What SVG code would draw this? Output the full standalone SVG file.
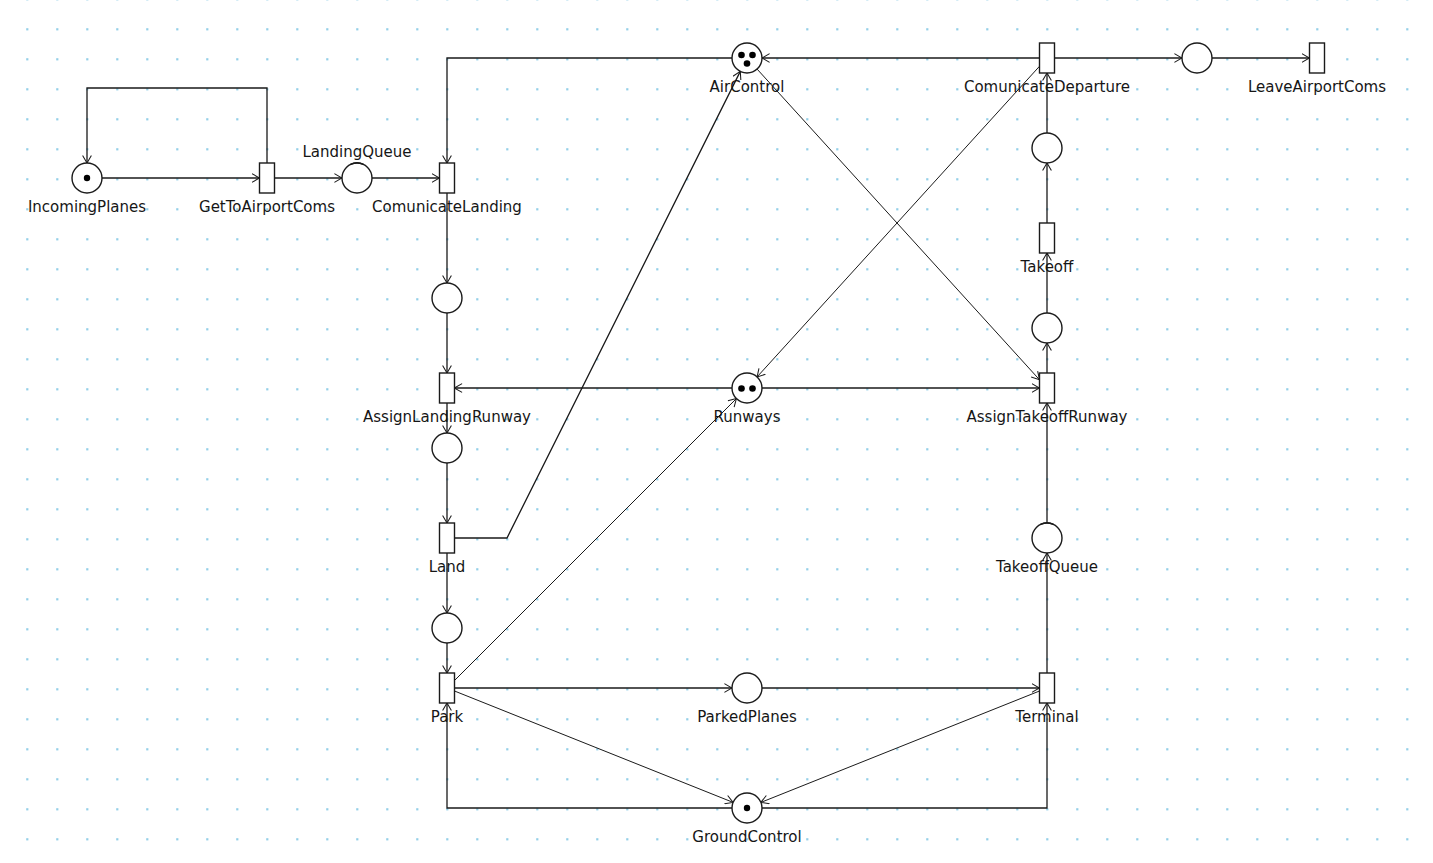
<svg xmlns="http://www.w3.org/2000/svg" width="1433" height="863" viewBox="0 0 1433 863">
<style>
.pl{fill:#fff;stroke:#1a1a1a;stroke-width:1.4}
.tr{fill:#fff;stroke:#1a1a1a;stroke-width:1.4}
.tk{fill:#000}
.lbl{font-family:"DejaVu Sans",Verdana,sans-serif;font-size:15px;fill:#161616;text-anchor:middle}
.arc{fill:none;stroke:#1a1a1a;stroke-width:1.3;marker-end:url(#ah)}
.dg{stroke-width:1}
.cap{fill:none;stroke:#1a1a1a;stroke-width:1.6}
</style>
<defs>
<pattern id="grid" x="12" y="14" width="30" height="30" patternUnits="userSpaceOnUse">
<rect x="14.2" y="14.2" width="2.2" height="2.2" fill="#93cfe8"/>
</pattern>
<marker id="ah" viewBox="0 0 10 12" refX="10" refY="6" markerWidth="8" markerHeight="10" markerUnits="userSpaceOnUse" orient="auto">
<path d="M0.5,0.5 L10,6 L0.5,11.5" fill="none" stroke="#1a1a1a" stroke-width="1.3"/>
</marker>
</defs>
<rect width="1433" height="863" fill="#fff"/>
<rect width="1433" height="863" fill="url(#grid)"/>
<g id="connectors">
<line class="arc" x1="102" y1="178" x2="259.5" y2="178"/>
<path class="arc" d="M267,163 V88 H87 V163"/>
<line class="arc" x1="274.5" y1="178" x2="342" y2="178"/>
<line class="arc" x1="372" y1="178" x2="439.5" y2="178"/>
<path class="arc" d="M732,58 H447 V163"/>
<line class="arc" x1="1039.5" y1="58" x2="762" y2="58"/>
<line class="arc" x1="1054.5" y1="58" x2="1182" y2="58"/>
<line class="arc" x1="1212" y1="58" x2="1309.5" y2="58"/>
<line class="arc" x1="1047" y1="133" x2="1047" y2="73"/>
<line class="arc" x1="1047" y1="223" x2="1047" y2="163"/>
<line class="arc" x1="1047" y1="313" x2="1047" y2="253"/>
<line class="arc" x1="1047" y1="373" x2="1047" y2="343"/>
<line class="arc" x1="1047" y1="523" x2="1047" y2="403"/>
<line class="arc" x1="1047" y1="673" x2="1047" y2="553"/>
<line class="arc" x1="762" y1="388" x2="1039.5" y2="388"/>
<line class="arc" x1="732" y1="388" x2="454.5" y2="388"/>
<line class="arc" x1="447" y1="193" x2="447" y2="283"/>
<line class="arc" x1="447" y1="313" x2="447" y2="373"/>
<line class="arc" x1="447" y1="403" x2="447" y2="433"/>
<line class="arc" x1="447" y1="463" x2="447" y2="523"/>
<line class="arc" x1="447" y1="553" x2="447" y2="613"/>
<line class="arc" x1="447" y1="643" x2="447" y2="673"/>
<line class="arc" x1="454.5" y1="688" x2="732" y2="688"/>
<line class="arc" x1="762" y1="688" x2="1039.5" y2="688"/>
<path class="arc" d="M732,808 H447 V703"/>
<path class="arc" d="M762,808 H1047 V703"/>
<path class="arc" d="M454.5,538 H507 L740.3,71.4"/>
<line class="arc dg" x1="757.1" y1="69.1" x2="1039.5" y2="379.75"/>
<line class="arc dg" x1="1039.5" y1="66.25" x2="757.1" y2="376.9"/>
<line class="arc dg" x1="454.5" y1="680.5" x2="736.4" y2="398.6"/>
<line class="arc dg" x1="454.5" y1="691" x2="733.1" y2="802.4"/>
<line class="arc dg" x1="1039.5" y1="691" x2="760.9" y2="802.4"/>
</g>
<g id="IncomingPlanes"><circle class="pl" cx="87" cy="178" r="15"/><circle class="tk" cx="87" cy="178" r="3.2"/><text class="lbl" x="87" y="212">IncomingPlanes</text></g>
<g id="GetToAirportComs"><rect class="tr" x="259.5" y="163" width="15" height="30"/><text class="lbl" x="267" y="212">GetToAirportComs</text></g>
<g id="LandingQueue"><circle class="pl" cx="357" cy="178" r="15"/><path class="cap" d="M350.5,164.4 Q357,161.2 363.5,164.4"/><text class="lbl" x="357" y="157">LandingQueue</text></g>
<g id="ComunicateLanding"><rect class="tr" x="439.5" y="163" width="15" height="30"/><text class="lbl" x="447" y="212">ComunicateLanding</text></g>
<g id="AirControl"><circle class="pl" cx="747" cy="58" r="15"/><circle class="tk" cx="741.5" cy="55" r="3.3"/><circle class="tk" cx="752.5" cy="55" r="3.3"/><circle class="tk" cx="747" cy="63.5" r="3.3"/><text class="lbl" x="747" y="92">AirControl</text></g>
<g id="ComunicateDeparture"><rect class="tr" x="1039.5" y="43" width="15" height="30"/><text class="lbl" x="1047" y="92">ComunicateDeparture</text></g>
<g id="P_Departed"><circle class="pl" cx="1197" cy="58" r="15"/></g>
<g id="LeaveAirportComs"><rect class="tr" x="1309.5" y="43" width="15" height="30"/><text class="lbl" x="1317" y="92">LeaveAirportComs</text></g>
<g id="P_AfterTakeoff"><circle class="pl" cx="1047" cy="148" r="15"/></g>
<g id="Takeoff"><rect class="tr" x="1039.5" y="223" width="15" height="30"/><text class="lbl" x="1047" y="272">Takeoff</text></g>
<g id="P_ReadyTakeoff"><circle class="pl" cx="1047" cy="328" r="15"/></g>
<g id="AssignTakeoffRunway"><rect class="tr" x="1039.5" y="373" width="15" height="30"/><text class="lbl" x="1047" y="422">AssignTakeoffRunway</text></g>
<g id="TakeoffQueue"><circle class="pl" cx="1047" cy="538" r="15"/><path class="cap" d="M1040.5,524.4 Q1047,521.2 1053.5,524.4"/><text class="lbl" x="1047" y="572">TakeoffQueue</text></g>
<g id="Terminal"><rect class="tr" x="1039.5" y="673" width="15" height="30"/><text class="lbl" x="1047" y="722">Terminal</text></g>
<g id="P_Cleared"><circle class="pl" cx="447" cy="298" r="15"/></g>
<g id="AssignLandingRunway"><rect class="tr" x="439.5" y="373" width="15" height="30"/><text class="lbl" x="447" y="422">AssignLandingRunway</text></g>
<g id="P_Approach"><circle class="pl" cx="447" cy="448" r="15"/></g>
<g id="Land"><rect class="tr" x="439.5" y="523" width="15" height="30"/><text class="lbl" x="447" y="572">Land</text></g>
<g id="P_Landed"><circle class="pl" cx="447" cy="628" r="15"/></g>
<g id="Park"><rect class="tr" x="439.5" y="673" width="15" height="30"/><text class="lbl" x="447" y="722">Park</text></g>
<g id="Runways"><circle class="pl" cx="747" cy="388" r="15"/><circle class="tk" cx="741.5" cy="388.5" r="3.3"/><circle class="tk" cx="752.5" cy="388.5" r="3.3"/><text class="lbl" x="747" y="422">Runways</text></g>
<g id="ParkedPlanes"><circle class="pl" cx="747" cy="688" r="15"/><text class="lbl" x="747" y="722">ParkedPlanes</text></g>
<g id="GroundControl"><circle class="pl" cx="747" cy="808" r="15"/><circle class="tk" cx="747" cy="808" r="3.2"/><text class="lbl" x="747" y="842">GroundControl</text></g>
</svg>
